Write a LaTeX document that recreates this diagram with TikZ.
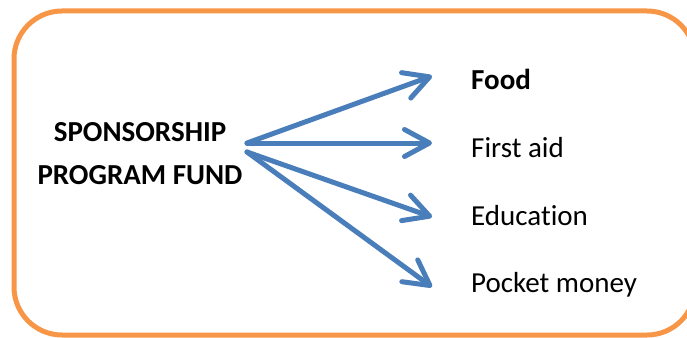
\documentclass[tikz,border=0pt]{standalone}
\usepackage{fontspec}
\setmainfont{Carlito}[Ligatures=NoCommon]
\usetikzlibrary{%
  arrows.meta,%
  positioning,% wg. " of "
  calc%
}
\definecolor{fundorange}{HTML}{F79646}
\definecolor{fundblue}{HTML}{4A7EBB}

\begin{document}
\begin{tikzpicture}
  [
  x=1pt, y=-1pt,
  font=\fontsize{29}{43}\selectfont, >={Straight Barb[length=25pt, width=27pt, round]},
  frame/.style={draw=fundorange, line width=5pt, rounded corners=48pt},
  fund/.style={rectangle, inner sep=0pt, align=center, font=\fontsize{29}{43}\selectfont\bfseries},
  item/.style={rectangle, inner sep=0pt, anchor=base west},
  flow/.style={draw=fundblue, line width=5pt, line cap=round, ->}
  ]

\useasboundingbox (0,0) rectangle (687,337);
\clip (0,0) rectangle (687,337);
\draw[frame] (14,11) rectangle (695,335);

\node[fund] (fund) at (140,154) {SPONSORSHIP\\PROGRAM FUND};

\coordinate (src1) at (247,143);
\coordinate (src2) at (247,152);

\node[item,font=\fontsize{29}{43}\selectfont\bfseries] (i1) at (471,89) {Food};
\node[item] (i2) at (471,157) {First aid};
\node[item] (i3) at (471,225) {Education};
\node[item] (i4) at (471,292) {Pocket money};

\foreach \i/\y in {1/76,2/143,3/217,4/287} {
  \coordinate (tip\i) at (432,\y);
}

\draw[flow] (src1) -- (tip1);
\draw[flow] (src1) -- (tip2);
\draw[flow] (src2) -- (tip3);
\draw[flow] (src2) -- (tip4);

\end{tikzpicture}
\end{document}
